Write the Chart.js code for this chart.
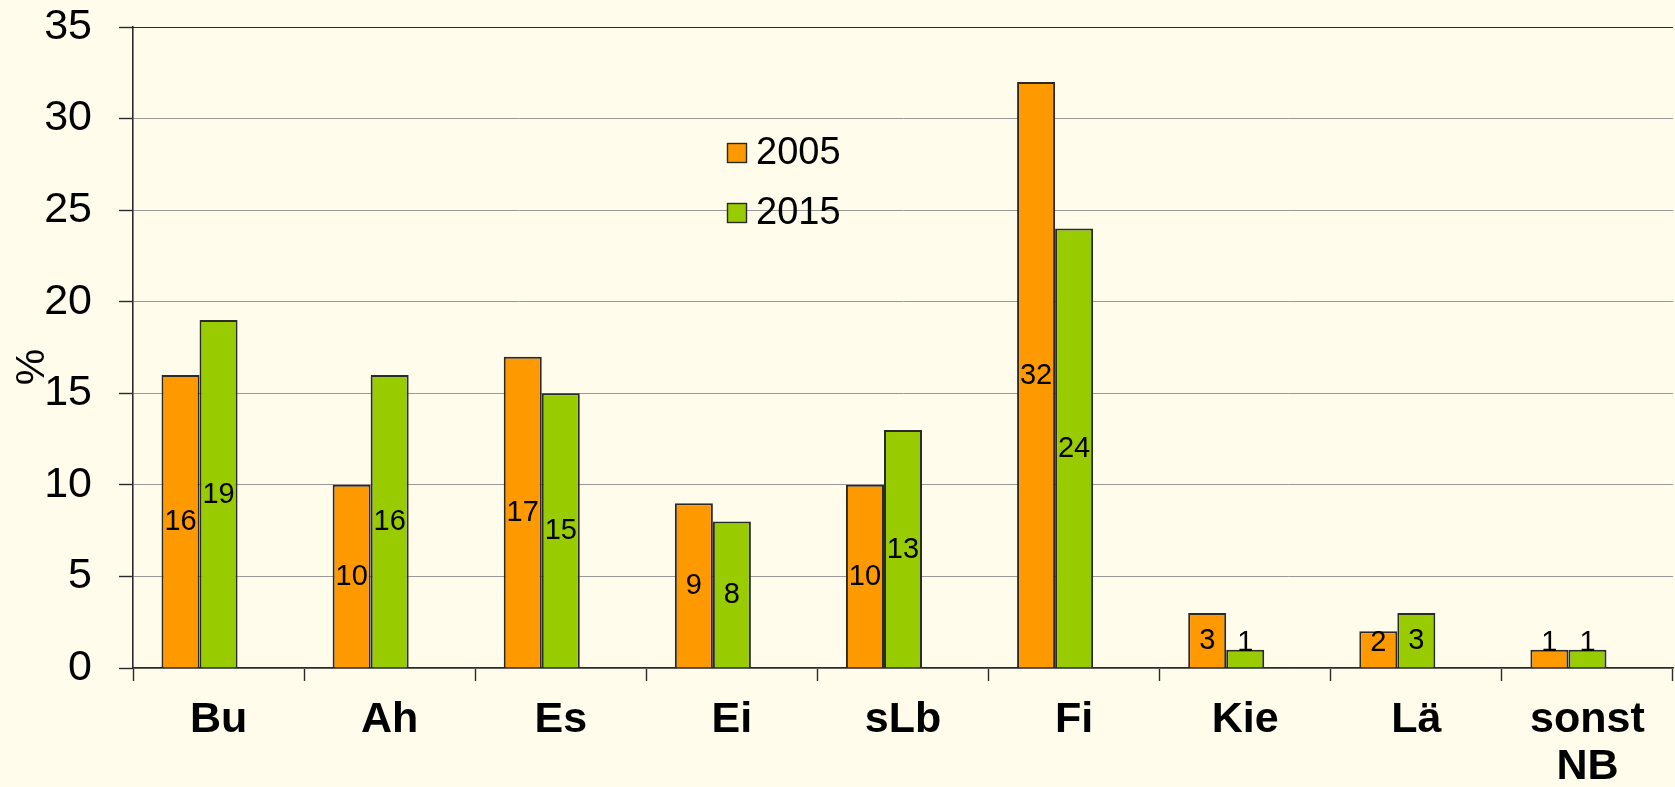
<!DOCTYPE html>
<html>
<head>
<meta charset="utf-8">
<script src="https://cdn.jsdelivr.net/npm/chart.js@4/dist/chart.umd.min.js"></script>
<style>
  html, body { margin: 0; padding: 0; background: #FFFCEB; }
  #wrap { width: 1675px; height: 787px; position: relative; }
</style>
</head>
<body>
<div id="wrap"><canvas id="c" width="1675" height="787"></canvas></div>
<script>
const categories = ['Bu', 'Ah', 'Es', 'Ei', 'sLb', 'Fi', 'Kie', 'Lä', ['sonst', 'NB']];
const values2005 = [16, 10, 17, 9, 10, 32, 3, 2, 1];
const values2015 = [19, 16, 15, 8, 13, 24, 1, 3, 1];
const emptySeries = [null, null, null, null, null, null, null, null, null];
const seriesLabels = ['2005', '2015'];
const yTicks = [0, 5, 10, 15, 20, 25, 30, 35];

const FONT = '"Liberation Sans", Arial, sans-serif';
const DARK = '#2a2a2a';

const decorations = {
  id: 'decorations',
  afterDatasetsDraw(chart) {
    const ctx = chart.ctx;
    const ys = chart.scales.y;
    const area = chart.chartArea;
    ctx.save();
    // solid top line at max
    ctx.strokeStyle = DARK;
    ctx.lineWidth = 1.2;
    ctx.beginPath();
    const yt = Math.round(ys.getPixelForValue(35)) + 0.5;
    ctx.moveTo(area.left - 14, yt);
    ctx.lineTo(area.right, yt);
    ctx.stroke();

    // data labels
    ctx.fillStyle = '#000';
    ctx.font = '29px ' + FONT;
    ctx.textAlign = 'center';
    ctx.textBaseline = 'middle';
    [0, 1].forEach(di => {
      const meta = chart.getDatasetMeta(di);
      meta.data.forEach((bar, i) => {
        const v = chart.data.datasets[di].data[i];
        if (v == null) return;
        let y = (bar.y + bar.base) / 2;
        y = Math.min(y, bar.base - 26);
        ctx.fillText(String(v), bar.x, y + 1);
      });
    });

    // legend
    ctx.font = '38px ' + FONT;
    ctx.textAlign = 'left';
    ctx.textBaseline = 'middle';
    [0, 1].forEach(di => {
      const ds = chart.data.datasets[di];
      const bx = 727, by = 143 + di * 60;
      ctx.fillStyle = ds.backgroundColor;
      ctx.fillRect(bx, by, 20, 20);
      ctx.strokeStyle = DARK;
      ctx.lineWidth = 1.4;
      ctx.strokeRect(bx + 0.5, by + 0.5, 19, 19);
      ctx.fillStyle = '#000';
      ctx.fillText(ds.label, 756, by + 11);
    });

    // y title
    ctx.save();
    ctx.translate(33, 367);
    ctx.rotate(-Math.PI / 2);
    ctx.font = '41px ' + FONT;
    ctx.textAlign = 'center';
    ctx.textBaseline = 'middle';
    ctx.fillText('%', 0, 0);
    ctx.restore();
    ctx.restore();
  }
};

const bgPlugin = {
  id: 'bg',
  beforeDraw(chart) {
    const ctx = chart.ctx;
    ctx.save();
    ctx.fillStyle = '#FFFCEB';
    ctx.fillRect(0, 0, chart.width, chart.height);
    ctx.restore();
  }
};

new Chart(document.getElementById('c'), {
  type: 'bar',
  data: {
    labels: categories,
    datasets: [
      { label: seriesLabels[0], data: values2005, backgroundColor: '#FF9900', borderColor: DARK, borderWidth: 2 },
      { label: seriesLabels[1], data: values2015, backgroundColor: '#99CC00', borderColor: DARK, borderWidth: 2 },
      { label: '', data: emptySeries, backgroundColor: 'rgba(0,0,0,0)', borderWidth: 0 }
    ]
  },
  options: {
    responsive: false,
    animation: false,
    devicePixelRatio: 1,
    layout: { padding: { left: 0, top: 0, right: 2, bottom: 0 } },
    datasets: { bar: { categoryPercentage: 2 / 3, barPercentage: 1.0 } },
    plugins: { legend: { display: false }, tooltip: { enabled: false } },
    scales: {
      x: {
        offset: true,
        grid: { offset: true, drawOnChartArea: false, drawTicks: true, tickLength: 13, tickColor: DARK, tickWidth: 1.4 },
        border: { display: true, color: DARK, width: 1.6 },
        ticks: { color: '#000', font: { family: FONT, size: 43, weight: 'bold', lineHeight: 1.08 }, padding: 16, maxRotation: 0, autoSkip: false },
        afterFit(scale) { scale.height = 119; }
      },
      y: {
        min: 0, max: 35,
        afterBuildTicks(scale) { scale.ticks = yTicks.map(v => ({ value: v })); },
        grid: { color: '#999999', lineWidth: 1, borderDash: [3, 2], tickLength: 14, tickColor: DARK, tickWidth: 1.4, tickBorderDash: [] },
        border: { display: true, color: DARK, width: 1.6 },
        ticks: { color: '#000', font: { family: FONT, size: 43 }, padding: 27 },
        afterFit(scale) { scale.width = 133; scale.paddingTop = 27; scale.paddingBottom = 0; }
      }
    }
  },
  plugins: [bgPlugin, decorations]
});
</script>
</body>
</html>
